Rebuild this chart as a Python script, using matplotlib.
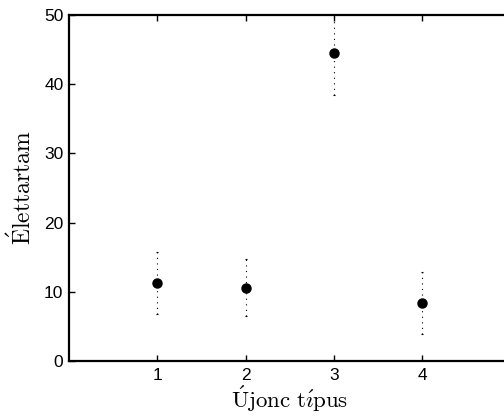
import matplotlib
matplotlib.use("Agg")
import matplotlib.pyplot as plt

categories = [1, 2, 3, 4]
means = [11.3, 10.6, 44.5, 8.4]
errors = [4.5, 4.1, 6.1, 4.5]
xticks = [1, 2, 3, 4]
yticks = [0, 10, 20, 30, 40, 50]

plt.rcParams['mathtext.fontset'] = 'cm'
plt.rcParams['font.family'] = ['Liberation Sans', 'DejaVu Sans']

fig = plt.figure(figsize=(5.04, 4.18), dpi=100)
W, H = 504, 418
left, bottom = 69 / W, (H - 361) / H
ax = fig.add_axes([left, bottom, 441.5 / W, 346 / H])

ax.errorbar(categories, means, yerr=errors, fmt='o', color='black',
            markersize=6.5, ecolor='black', elinewidth=0.8, linestyle='none',
            capsize=1, capthick=0.8)
for coll in ax.collections:
    coll.set_linestyle((0, (1, 4)))

ax.set_xlim(0, 5)
ax.set_ylim(0, 50)
ax.set_xticks(xticks)
ax.set_yticks(yticks)
ax.tick_params(direction='in', length=4, width=1, labelsize=12.5,
               top=True, right=True)
ax.tick_params(axis='x', pad=5)
ax.tick_params(axis='y', pad=4)
for s in ax.spines.values():
    s.set_linewidth(1.6)

ax.set_xlabel(r'$\mathrm{\acute{U}jonc\ t\acute{\imath}pus}$', fontsize=16.5, labelpad=1)
ax.set_ylabel(r'$\mathrm{\acute{E}lettartam}$', fontsize=17, labelpad=6)

fig.savefig('out.png', dpi=100)
